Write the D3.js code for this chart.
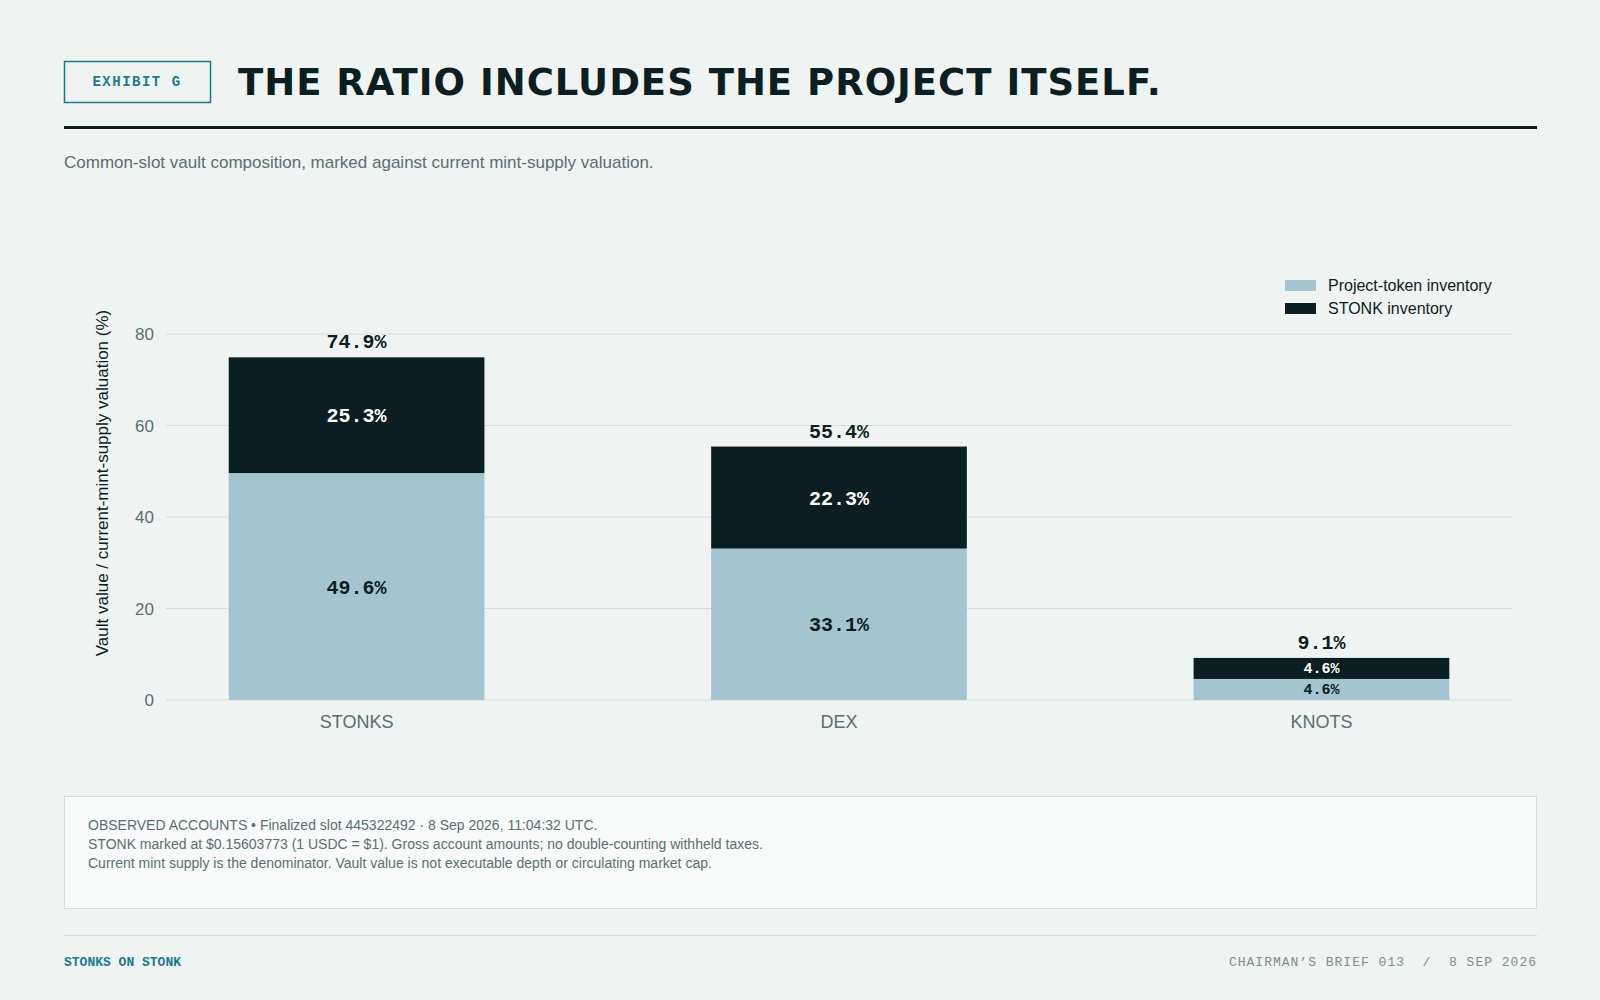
<!DOCTYPE html>
<html>
<head>
<meta charset="utf-8">
<script src="https://cdn.jsdelivr.net/npm/d3@7"></script>
<style>
  body { margin: 0; background: #eff3f2; }
  svg { display: block; }
</style>
</head>
<body>
<div id="chart"></div>
<script>
const categories = ["STONKS", "DEX", "KNOTS"];
const projectToken = [49.6, 33.1, 4.6];
const stonkInv = [25.3, 22.3, 4.6];
const totals = [74.9, 55.4, 9.1];
const yTicks = [0, 20, 40, 60, 80];
const seriesNames = ["Project-token inventory", "STONK inventory"];
const colors = ["#a4c4cf", "#0b1f22"];

const W = 1600, H = 1000;
const svg = d3.select("#chart").append("svg").attr("width", W).attr("height", H);
const mono = "'Liberation Mono', 'Courier New', monospace";
const sans = "'Liberation Sans', Arial, sans-serif";

// header
svg.append("rect").attr("x", 64.5).attr("y", 61.5).attr("width", 146).attr("height", 41)
  .attr("fill", "none").attr("stroke", "#1b7a8c").attr("stroke-width", 1.5);
svg.append("text").attr("x", 137).attr("y", 86).attr("text-anchor", "middle")
  .attr("font-family", mono).attr("font-weight", "bold").attr("font-size", 14)
  .attr("letter-spacing", 1.5).attr("fill", "#1b7a8c").text("EXHIBIT G");
svg.append("text").attr("x", 238).attr("y", 95)
  .attr("font-family", "'DejaVu Sans', sans-serif").attr("font-weight", "bold").attr("font-size", 37)
  .attr("letter-spacing", 1).attr("fill", "#0b1f22").text("THE RATIO INCLUDES THE PROJECT ITSELF.");
svg.append("rect").attr("x", 64).attr("y", 126).attr("width", 1473).attr("height", 3).attr("fill", "#0b1f22");
svg.append("text").attr("x", 64).attr("y", 168).attr("font-family", sans).attr("font-size", 17)
  .attr("fill", "#587072").text("Common-slot vault composition, marked against current mint-supply valuation.");

// chart
const x = d3.scaleBand().domain(categories).range([166, 1512]).paddingInner(0.47).paddingOuter(0.13);
const y = d3.scaleLinear().domain([0, 80]).range([700, 334]);

svg.append("g").selectAll("line").data(yTicks).join("line")
  .attr("x1", 166).attr("x2", 1512).attr("y1", d => y(d)).attr("y2", d => y(d))
  .attr("stroke", "#d6dedd").attr("stroke-width", 1);
svg.append("g").selectAll("text").data(yTicks).join("text")
  .attr("x", 154).attr("y", d => y(d) + 6).attr("text-anchor", "end")
  .attr("font-family", sans).attr("font-size", 17).attr("fill", "#587072").text(d => d);
svg.append("text").attr("transform", `translate(108,483) rotate(-90)`).attr("text-anchor", "middle")
  .attr("font-family", sans).attr("font-size", 17).attr("fill", "#0b1f22")
  .text("Vault value / current-mint-supply valuation (%)");

const stackData = categories.map((c, i) => ({ cat: c, p: projectToken[i], s: stonkInv[i] }));
const stack = d3.stack().keys(["p", "s"])(stackData);
const g = svg.append("g");
stack.forEach((layer, li) => {
  g.selectAll(null).data(layer).join("rect")
    .attr("x", d => x(d.data.cat)).attr("width", x.bandwidth())
    .attr("y", d => y(d[1])).attr("height", d => y(d[0]) - y(d[1]))
    .attr("fill", colors[li]);
  g.selectAll(null).data(layer).join("text")
    .attr("x", d => x(d.data.cat) + x.bandwidth() / 2)
    .attr("y", d => {
      const h = y(d[0]) - y(d[1]);
      return (y(d[0]) + y(d[1])) / 2 + (h < 30 ? 5 : 7);
    })
    .attr("text-anchor", "middle").attr("font-family", mono).attr("font-weight", "bold")
    .attr("font-size", d => (y(d[0]) - y(d[1])) < 30 ? 15 : 20)
    .attr("fill", li === 0 ? "#0b1f22" : "#ffffff")
    .text(d => d3.format(".1f")(d[1] - d[0]) + "%");
});
g.selectAll(".tot").data(categories).join("text")
  .attr("x", d => x(d) + x.bandwidth() / 2).attr("y", (d, i) => y(totals[i]) - 9)
  .attr("text-anchor", "middle").attr("font-family", mono).attr("font-weight", "bold")
  .attr("font-size", 20).attr("fill", "#0b1f22").text((d, i) => d3.format(".1f")(totals[i]) + "%");
svg.append("g").selectAll("text").data(categories).join("text")
  .attr("x", d => x(d) + x.bandwidth() / 2).attr("y", 728).attr("text-anchor", "middle")
  .attr("font-family", sans).attr("font-size", 18).attr("fill", "#587072").text(d => d);

// legend
const lg = svg.append("g").selectAll("g").data(seriesNames).join("g")
  .attr("transform", (d, i) => `translate(1285,${280 + i * 23})`);
lg.append("rect").attr("width", 31).attr("height", 11).attr("fill", (d, i) => colors[i]);
lg.append("text").attr("x", 43).attr("y", 11).attr("font-family", sans).attr("font-size", 16)
  .attr("fill", "#0b1f22").text(d => d);

// notes
svg.append("rect").attr("x", 64.5).attr("y", 796.5).attr("width", 1472).attr("height", 112)
  .attr("fill", "#f8faf9").attr("stroke", "#d6dedd");
const notes = [
  "OBSERVED ACCOUNTS \u2022 Finalized slot 445322492 \u00b7 8 Sep 2026, 11:04:32 UTC.",
  "STONK marked at $0.15603773 (1 USDC = $1). Gross account amounts; no double-counting withheld taxes.",
  "Current mint supply is the denominator. Vault value is not executable depth or circulating market cap."
];
svg.append("g").selectAll("text").data(notes).join("text")
  .attr("x", 88).attr("y", (d, i) => 830 + i * 19).attr("font-family", sans).attr("font-size", 14)
  .attr("fill", "#587072").text(d => d);

// footer
svg.append("rect").attr("x", 64).attr("y", 935).attr("width", 1473).attr("height", 1).attr("fill", "#d6dedd");
svg.append("text").attr("x", 64).attr("y", 966).attr("font-family", mono).attr("font-weight", "bold")
  .attr("font-size", 13).attr("fill", "#1b7a8c").text("STONKS ON STONK");
svg.append("text").attr("x", 1537).attr("y", 966).attr("text-anchor", "end").attr("font-family", mono)
  .attr("font-size", 13).attr("letter-spacing", 1).attr("fill", "#7d8f90").attr("xml:space", "preserve")
  .text("CHAIRMAN\u2019S BRIEF 013  /  8 SEP 2026");
</script>
</body>
</html>
